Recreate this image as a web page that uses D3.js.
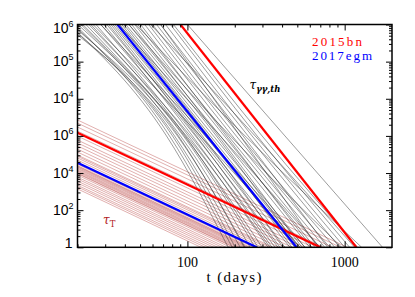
<!DOCTYPE html>
<html lang="en">
<head>
<meta charset="utf-8">
<title>optical depths</title>
<script src="https://cdn.jsdelivr.net/npm/d3@7"></script>
<style>
  body { margin: 0; background: #fff; }
</style>
</head>
<body>
<svg id="chart"></svg>
<script>
// values
// upper set: tau_gg,th (left scale 1..1e6), lower set: tau_T (scale 1..1e12)

// thin black curves: t (days) where tau_gg,th = 1e6, 1e3 and 1
var blackTop = [16.4, 17.1, 17.7, 18.2, 18.7, 19.3, 20.1, 21.0, 21.6, 22.6, 23.6, 26.2, 28.1, 29.4, 30.7,
                31.6, 32.6, 33.5, 34.5, 37.1, 38.2, 39.4, 40.5, 42.4, 44.2, 46.2, 48.3, 50.4, 53.5, 56.7,
                60.0, 63.6, 67.5, 72.6, 78.0, 81.5, 100, 25.1, 36.6, 46.9, 58.3, 28.1, 24.3, 67.5, 42.4];
var blackMid = [86.4, 80.4, 73.6, 90.3, 82.8, 76.9, 94.3, 87.7, 98.5, 95.7, 104.5, 101.5, 112.4, 107.6, 117.4,
                114.0, 120.8, 124.5, 130.0, 135.8, 139.9, 146.2, 152.7, 161.8, 157.1, 171.5, 181.7, 176.6, 192.7, 204.3,
                216.4, 226.0, 243.1, 257.7, 277.3, 298.3, 417, 120.8, 161.8, 232.6, 269.3, 130.0, 97.1, 216.4, 187.1];
var blackEnd = [232.6, 201.3, 181.7, 250.6, 216.4, 192.7, 269.3, 229.4, 335, 298.3, 360.5, 325.6, 388, 345, 417,
                376.6, 449, 405, 483, 462, 519, 559, 505, 600, 535, 646, 694, 618, 747, 803,
                865, 780, 929, 1000, 1075, 1208, 1741, 519, 694, 1282, 1157, 559, 281.2, 675, 957];

// thin brown lines: tau_T at t = 20 d and t (days) where tau_T = 1
var brownStart = [7.2e6, 4.9e6, 3.0e6, 1.8e6, 9.8e5, 6.0e5, 4.2e5, 2.9e5, 1.95e5, 1.35e5, 9.3e4, 8.0e4, 6.5e4, 5.0e4,
                  3.4e4, 3.0e4, 2.5e4, 2.3e4, 2.1e4, 1.86e4, 1.66e4, 1.45e4, 1.29e4, 1.15e4, 1.0e4, 9.3e3, 7.8e3, 6.0e3,
                  4.8e3, 3.7e3, 2.9e3, 2.2e3, 1.8e3, 1.4e3];
var brownEnd = [1037, 941, 834, 735, 629, 557, 508, 463, 420, 383, 350, 336, 319, 299,
                272, 264, 252, 246, 240, 234, 227, 219, 213, 207, 200, 197, 188, 176,
                166, 156, 147, 138, 130, 122];

// highlighted objects [t, tau]
var sn2015bnGG = [[90.3, 1e6], [1186, 1]];
var sn2017egmGG = [[35.9, 1e6], [494, 1]];
var sn2015bnT = [[20, 1.48e6], [700, 1]];
var sn2017egmT = [[20, 3.6e4], [276, 1]];

var xTicksMajor = [100, 1000];
var xTicksMinor = [20, 30, 40, 50, 60, 70, 80, 90, 200, 300, 400, 500, 600, 700, 800, 900];
var yLabelsTop = [[1e6, "6"], [1e5, "5"], [1e4, "4"]];
var yLabelsBot = [[1e6, "6"], [1e4, "4"], [1e2, "2"]];

var width = 415, height = 297;
var plotL = 77.5, plotR = 392, plotT = 24.5, plotB = 247.3;

var svg = d3.select("#chart").attr("width", width).attr("height", height);

var x = d3.scaleLog().domain([20, 2000]).range([plotL, plotR]);
var yGG = d3.scaleLog().domain([1, 1e6]).range([plotB, plotT]);
var yT = d3.scaleLog().domain([1, 1e12]).range([plotB, plotT]);

svg.append("clipPath").attr("id", "plot")
  .append("rect").attr("x", plotL).attr("y", plotT)
  .attr("width", plotR - plotL).attr("height", plotB - plotT);

var g = svg.append("g").attr("clip-path", "url(#plot)");

var lineGG = d3.line().x(d => x(d[0])).y(d => yGG(d[1])).curve(d3.curveMonotoneX);
var lineT = d3.line().x(d => x(d[0])).y(d => yT(d[1]));

var brown = brownStart.map((v, i) => [[20, v], [brownEnd[i], 1]]);
g.selectAll(".tauT").data(brown).enter().append("path")
  .attr("class", "tauT")
  .attr("d", lineT)
  .attr("fill", "none")
  .attr("stroke", "#b8423f")
  .attr("stroke-opacity", 0.7)
  .attr("stroke-width", 0.6);

var black = blackTop.map((v, i) => [[v, 1e6], [blackMid[i], 1e3], [blackEnd[i], 1]]);
g.selectAll(".tauGG").data(black).enter().append("path")
  .attr("class", "tauGG")
  .attr("d", lineGG)
  .attr("fill", "none")
  .attr("stroke", "#222")
  .attr("stroke-opacity", 0.75)
  .attr("stroke-width", 0.6);

function thick(data, line, colour) {
  g.append("path").datum(data)
    .attr("d", line)
    .attr("fill", "none")
    .attr("stroke", colour)
    .attr("stroke-width", 2.2);
}
thick(sn2015bnT, lineT, "#ff0000");
thick(sn2017egmT, lineT, "#0000ff");
thick(sn2017egmGG, lineGG, "#0000ff");
thick(sn2015bnGG, lineGG, "#ff0000");

// axes
function xAxis(axisFn, y, ticks, size) {
  svg.append("g").attr("transform", "translate(0," + y + ")")
    .call(axisFn(x).tickValues(ticks).tickSize(size).tickFormat(""))
    .call(a => a.select(".domain").remove())
    .selectAll("line").attr("stroke-width", 1);
}
xAxis(d3.axisBottom, plotB, xTicksMajor, -6);
xAxis(d3.axisBottom, plotB, xTicksMinor, -3);
xAxis(d3.axisTop, plotT, xTicksMajor, -6);
xAxis(d3.axisTop, plotT, xTicksMinor, -3);

var yMajor = [], yMinor = [];
for (var k = 0; k <= 6; k++) {
  yMajor.push(Math.pow(10, k));
  if (k < 6) for (var m = 2; m <= 9; m++) yMinor.push(m * Math.pow(10, k));
}
function yAxis(axisFn, xp, ticks, size) {
  svg.append("g").attr("transform", "translate(" + xp + ",0)")
    .call(axisFn(yGG).tickValues(ticks).tickSize(size).tickFormat(""))
    .call(a => a.select(".domain").remove())
    .selectAll("line").attr("stroke-width", 1);
}
yAxis(d3.axisLeft, plotL, yMajor, -6);
yAxis(d3.axisLeft, plotL, yMinor, -3);
yAxis(d3.axisRight, plotR, yMajor, -6);
yAxis(d3.axisRight, plotR, yMinor, -3);

svg.append("rect")
  .attr("x", plotL).attr("y", plotT)
  .attr("width", plotR - plotL).attr("height", plotB - plotT)
  .attr("fill", "none").attr("stroke", "#000").attr("stroke-width", 1.5);

// tick labels
svg.selectAll(".xlab").data(xTicksMajor).enter().append("text")
  .attr("x", d => x(d)).attr("y", 267)
  .attr("text-anchor", "middle")
  .style("font-family", "Liberation Serif, serif").style("font-size", "14px")
  .text(d => d);

function powLabel(ypos, ex) {
  var t = svg.append("text")
    .attr("x", 73.5).attr("y", ypos)
    .attr("text-anchor", "end")
    .style("font-family", "Liberation Sans, Arial, sans-serif").style("font-size", "14px");
  t.append("tspan").text("10");
  t.append("tspan").attr("dy", -6).style("font-size", "9px").text(ex);
}
yLabelsTop.forEach(function(d, i) {
  powLabel(yGG(d[0]) + (i === 0 ? 8 : 4.5), d[1]);
});
yLabelsBot.forEach(function(d) {
  powLabel(yT(d[0]) + 4.5, d[1]);
});
svg.append("text").attr("x", 72.5).attr("y", plotB + 0.5)
  .attr("text-anchor", "end")
  .style("font-family", "Liberation Sans, Arial, sans-serif").style("font-size", "14px")
  .text("1");

svg.append("text").attr("x", 234).attr("y", 282)
  .attr("text-anchor", "middle")
  .attr("textLength", 55).attr("lengthAdjust", "spacing")
  .style("font-family", "Liberation Serif, serif").style("font-size", "15px")
  .text("t (days)");

// legend
svg.append("text").attr("x", 312).attr("y", 45.5)
  .attr("textLength", 50).attr("lengthAdjust", "spacing")
  .attr("fill", "#ff0000")
  .style("font-family", "Liberation Serif, serif").style("font-size", "13px")
  .text("2015bn");
svg.append("text").attr("x", 312).attr("y", 60)
  .attr("textLength", 60).attr("lengthAdjust", "spacing")
  .attr("fill", "#0000ff")
  .style("font-family", "Liberation Serif, serif").style("font-size", "13px")
  .text("2017egm");

// curve labels
var lg = svg.append("text").attr("x", 249.5).attr("y", 88.5)
  .style("font-family", "DejaVu Serif, serif").style("font-style", "italic").style("font-size", "12px");
lg.append("tspan").text("τ");
lg.append("tspan").attr("dy", 3.5).style("font-size", "8.5px").style("font-weight", "bold").text("γγ,th");

var lt = svg.append("text").attr("x", 103).attr("y", 224)
  .attr("fill", "#b22222")
  .style("font-family", "DejaVu Serif, serif").style("font-style", "italic").style("font-size", "12px");
lt.append("tspan").text("τ");
lt.append("tspan").attr("dy", 3).style("font-size", "8.5px").style("font-style", "normal").text("T");
</script>
</body>
</html>
